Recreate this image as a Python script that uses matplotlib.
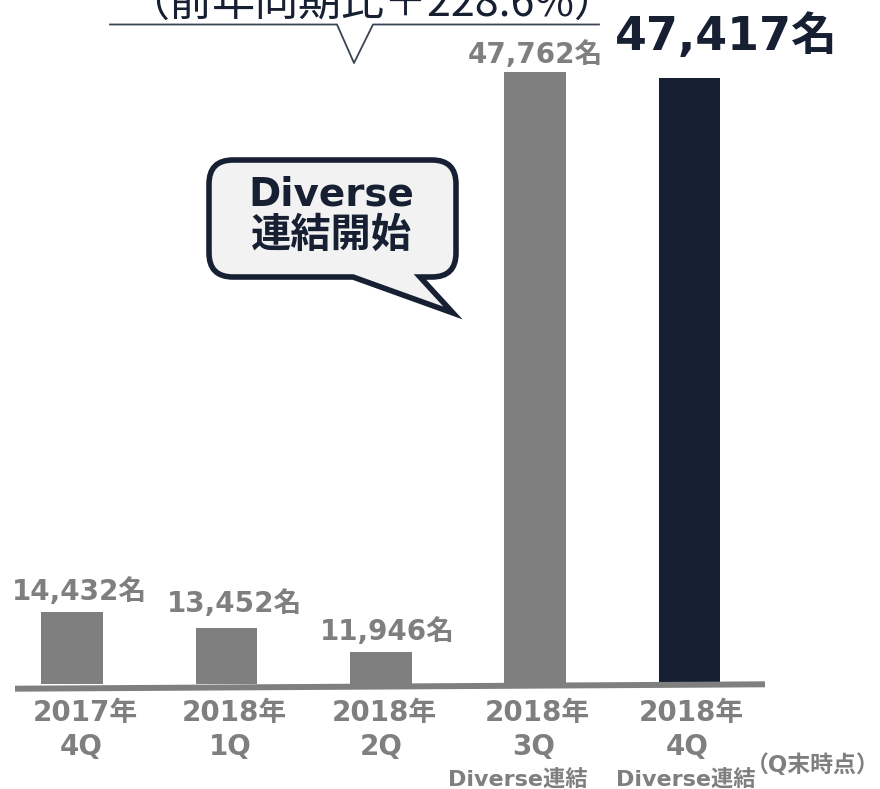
import matplotlib
matplotlib.use("Agg")
import matplotlib.pyplot as plt
from matplotlib.transforms import Affine2D
from matplotlib.path import Path
from matplotlib.patches import PathPatch
from matplotlib.lines import Line2D

# ---------------- data ----------------
categories = ["2017年\n4Q", "2018年\n1Q", "2018年\n2Q", "2018年\n3Q", "2018年\n4Q"]
sub_labels = ["", "", "", "Diverse連結", "Diverse連結"]
values = [14432, 13452, 11946, 47762, 47417]
value_labels = ["14,432名", "13,452名", "11,946名", "47,762名", "47,417名"]
axis_base = 10000
growth_text = "（前年同期比＋228.6%）"
bubble_lines = ["Diverse", "連結開始"]
note_text = "（Q末時点）"

# ---------------- style ----------------
W, H = 880, 789
GRAY = "#7f7f7f"
NAVY = "#162032"
FAM = ["DejaVu Sans", "Noto Sans CJK JP"]
FAM_JP = ["Noto Sans CJK JP", "DejaVu Sans"]
bar_colors = [GRAY, GRAY, GRAY, GRAY, NAVY]

fig = plt.figure(figsize=(W / 100, H / 100), dpi=100)
ax = fig.add_axes([0, 0, 1, 1])
ax.axis("off")

# axis scaling (pixels per value unit and base pixel position)
ppu = 0.016205
base_px = 684.0
ax.set_ylim(axis_base - (H - base_px) / ppu, axis_base + base_px / ppu)
x0_px, step_px = 72.0, 154.4
ax.set_xlim(-x0_px / step_px, (W - x0_px) / step_px)

xs = list(range(len(values)))
ax.bar(xs, [v - axis_base for v in values], bottom=axis_base, width=0.40,
       color=bar_colors, zorder=2)

PX = Affine2D().scale(1 / W, -1 / H).translate(0, 1) + fig.transFigure

# baseline (slightly tilted)
fig.add_artist(Line2D([15, 765], [688.7, 684.3], transform=PX, color=GRAY,
                      lw=4.3, solid_capstyle="butt", zorder=3))

# value labels
lab_dx = [7, 8, 7, 0, 37]
lab_dy = [12, 16, 12, 9, 28]
lab_size = [20, 20, 20, 20, 33]
lab_color = [GRAY, GRAY, GRAY, GRAY, NAVY]
for i, (v, t) in enumerate(zip(values, value_labels)):
    ax.annotate(t, (i, v), xytext=(lab_dx[i], lab_dy[i]), textcoords="offset pixels",
                ha="center", va="baseline", fontsize=lab_size[i], fontweight="bold",
                color=lab_color[i], family=FAM)

# category labels
cat_dx = [11, 6, 2, 0, 0]
for i, c in enumerate(categories):
    year, q = c.split("\n")
    ax.annotate(year, (i, axis_base), xytext=(cat_dx[i] + 2, -37), textcoords="offset pixels",
                ha="center", va="baseline", fontsize=20, fontweight="bold",
                color=GRAY, family=FAM)
    ax.annotate(q, (i, axis_base), xytext=(cat_dx[i] - 2, -71), textcoords="offset pixels",
                ha="center", va="baseline", fontsize=20, fontweight="bold",
                color=GRAY, family=FAM)
    if sub_labels[i]:
        sdx = -17 if i == 3 else -4
        ax.annotate(sub_labels[i], (i, axis_base), xytext=(sdx, -102), textcoords="offset pixels",
                    ha="center", va="baseline", fontsize=16, fontweight="bold",
                    color=GRAY, family=FAM)

fig.text(813 / W, 1 - 772 / H, note_text, ha="center", va="baseline", fontsize=16.5,
         fontweight="bold", color=GRAY, family=FAM)

# growth annotation at top (cut by the top edge, as in the original)
fig.text(372 / W, 1 - 17 / H, growth_text, ha="center", va="baseline", fontsize=31,
         color=NAVY, family=FAM_JP)
fig.add_artist(Line2D([110, 337, 354, 373, 599], [24.5, 24.5, 63, 24.5, 24.5],
                      transform=PX, color="#3a4454", lw=1.3))

# speech bubble
x0, x1, y0, y1, r = 209, 456, 160, 277, 24
verts = [(x0 + r, y0), (x1 - r, y0), (x1, y0), (x1, y0 + r), (x1, y1 - r),
         (x1, y1), (x1 - r, y1), (420, y1), (453, 313), (353, y1), (x0 + r, y1),
         (x0, y1), (x0, y1 - r), (x0, y0 + r), (x0, y0), (x0 + r, y0), (x0 + r, y0)]
codes = [Path.MOVETO, Path.LINETO, Path.CURVE3, Path.CURVE3, Path.LINETO,
         Path.CURVE3, Path.CURVE3, Path.LINETO, Path.LINETO, Path.LINETO, Path.LINETO,
         Path.CURVE3, Path.CURVE3, Path.LINETO, Path.CURVE3, Path.CURVE3, Path.CLOSEPOLY]
fig.add_artist(PathPatch(Path(verts, codes), transform=PX, facecolor="#f2f2f2",
                         edgecolor=NAVY, lw=4.0, joinstyle="miter"))
fig.text(331 / W, 1 - 205 / H, bubble_lines[0], ha="center", va="baseline", fontsize=28,
         fontweight="bold", color=NAVY, family=FAM)
fig.text(331 / W, 1 - 247 / H, bubble_lines[1], ha="center", va="baseline", fontsize=29,
         fontweight="bold", color=NAVY, family=FAM_JP)

fig.savefig("out.png", dpi=100)
